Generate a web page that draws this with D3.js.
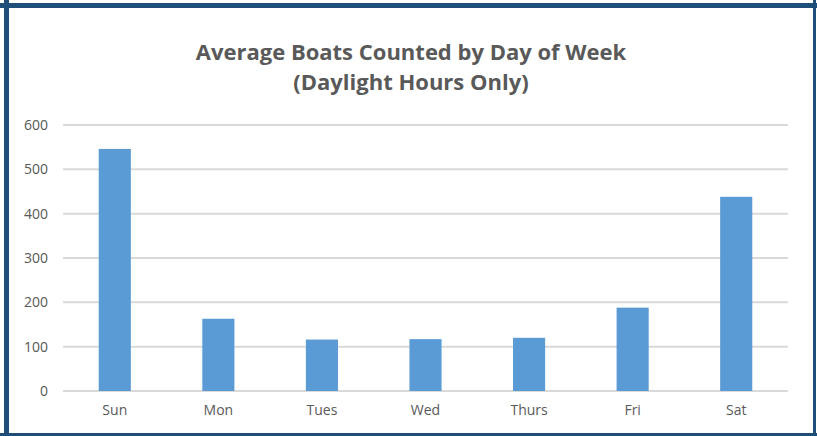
<!DOCTYPE html>
<html>
<head>
<meta charset="utf-8">
<script src="https://cdn.jsdelivr.net/npm/d3@7"></script>
<style>
  body { margin: 0; background: #fff; }
  svg text { font-family: "Open Sans", "Liberation Sans", sans-serif; fill: #595959; }
</style>
</head>
<body>
<div id="chart"></div>
<script>
// chart values
const days = ['Sun', 'Mon', 'Tues', 'Wed', 'Thurs', 'Fri', 'Sat'];
const avgBoats = [546, 163, 116, 117, 120, 188, 438];
const yTicks = [0, 100, 200, 300, 400, 500, 600];
const titleLines = ['Average Boats Counted by Day of Week', '(Daylight Hours Only)'];

const width = 817, height = 436;
const margin = {top: 125, right: 29, bottom: 45, left: 63};
let borderColor = '#1f4e79', gridColor = '#d9d9d9', barColor = '#5b9bd5';

const svg = d3.select('#chart').append('svg')
    .attr('width', width)
    .attr('height', height);

// frame
svg.append('rect').attr('x', 0).attr('y', 3).attr('width', width).attr('height', 5).attr('fill', borderColor);
svg.append('rect').attr('x', 4).attr('y', 0).attr('width', 5).attr('height', height).attr('fill', borderColor);
svg.append('rect').attr('x', 813).attr('y', 0).attr('width', 3).attr('height', height).attr('fill', borderColor);
svg.append('rect').attr('x', 0).attr('y', 433).attr('width', width).attr('height', 3).attr('fill', borderColor);

const x = d3.scaleBand()
    .domain(days)
    .range([margin.left, width - margin.right])
    .paddingInner(0.69)
    .paddingOuter(0.345);

const y = d3.scaleLinear()
    .domain([0, 600])
    .range([height - margin.bottom, margin.top]);

// gridlines
svg.append('g').selectAll('line')
    .data(yTicks)
    .enter().append('line')
    .attr('x1', margin.left)
    .attr('x2', width - margin.right)
    .attr('y1', d => y(d))
    .attr('y2', d => y(d))
    .attr('stroke', gridColor)
    .attr('stroke-width', 2);

// bars
svg.append('g').selectAll('rect')
    .data(avgBoats)
    .enter().append('rect')
    .attr('x', (d, i) => x(days[i]))
    .attr('width', x.bandwidth())
    .attr('y', d => y(d))
    .attr('height', d => y(0) - y(d))
    .attr('fill', barColor);

// y axis
const yAxis = svg.append('g')
    .attr('transform', 'translate(' + (margin.left - 15) + ',0)')
    .call(d3.axisLeft(y).tickValues(yTicks).tickSize(0).tickPadding(0));
yAxis.select('.domain').remove();
yAxis.selectAll('text').style('font-size', '14px').attr('fill', '#595959');

// x axis
const xAxis = svg.append('g')
    .attr('transform', 'translate(0,' + y(0) + ')')
    .call(d3.axisBottom(x).tickSize(0).tickPadding(14));
xAxis.select('.domain').remove();
xAxis.selectAll('text').style('font-size', '14px').attr('fill', '#595959');

// title
svg.append('g').selectAll('text')
    .data(titleLines)
    .enter().append('text')
    .attr('x', 411)
    .attr('y', (d, i) => 60 + i * 30)
    .attr('text-anchor', 'middle')
    .style('font-size', '22px')
    .style('font-weight', 'bold')
    .text(d => d);
</script>
</body>
</html>
